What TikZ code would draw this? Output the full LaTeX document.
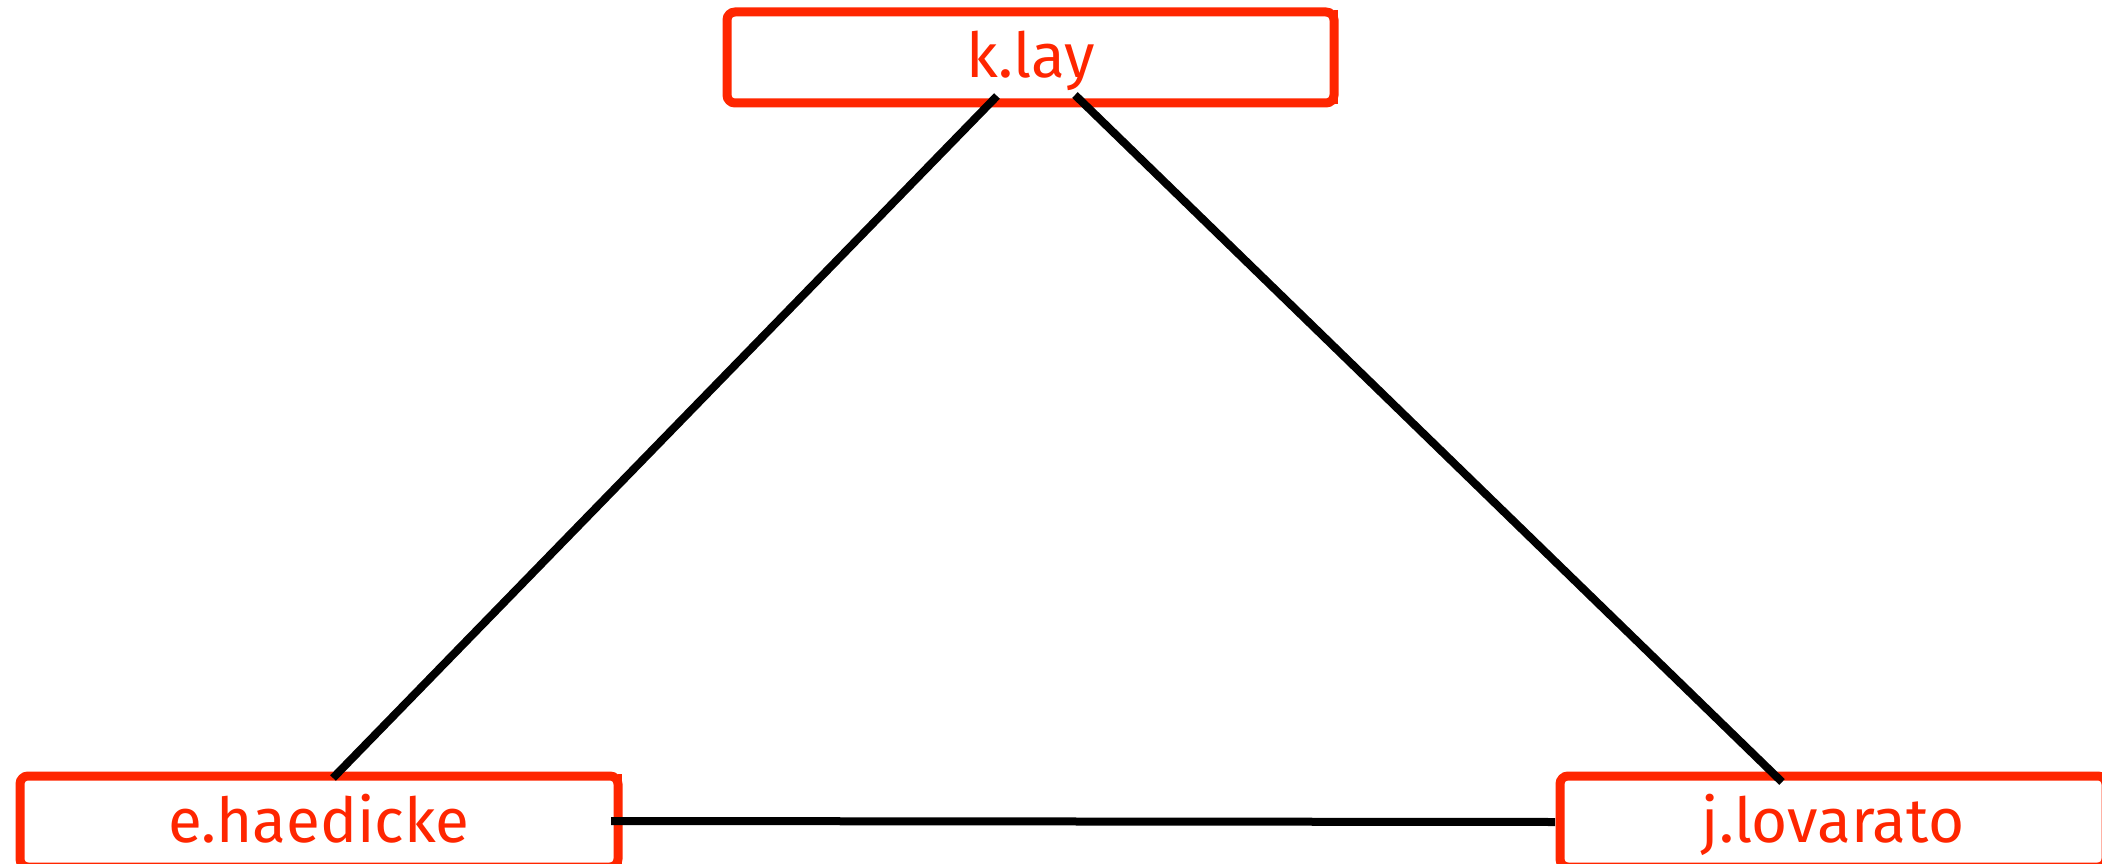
\documentclass[tikz,border=0pt]{standalone}
\usepackage{fontspec}
\setmainfont{Fira Sans}
\usetikzlibrary{calc}
\definecolor{boxred}{RGB}{255,38,0}
\tikzset{
  person/.style={draw=boxred, line width=9pt, rounded corners=8pt, fill=white,
    inner sep=0pt, outer sep=0pt, minimum height=91pt, text=boxred,
    font=\fontsize{62}{74}\selectfont, text height=45pt, text depth=4pt},
  edge/.style={draw=black, line width=8pt},
  notch/.style={draw=boxred, line width=4pt}
}
\begin{document}
\begin{tikzpicture}[x=1pt, y=-1pt]
  \useasboundingbox (0,0) rectangle (2102,864);
  \clip (0,0) rectangle (2102,864);
  % people
  \node[person, minimum width=607pt] (klay) at (1030.5,57.5) {k.lay};
  \node[person, minimum width=598pt] (haedicke) at (319,821.5) {e.haedicke};
  \node[person, minimum width=546pt] (lovarato) at (1833,821.5) {j.lovarato};
  % squared-off outer right edges
  \draw[notch] ($(klay.north east)+(2,-2)$) -- ($(klay.south east)+(2,1)$);
  \draw[notch] ($(haedicke.north east)+(2,-2)$) -- ($(haedicke.south east)+(2,1)$);
  % connector ends
  \coordinate (k1) at ($(klay.south)+(-33.5,-7)$);
  \coordinate (k2) at ($(klay.south)+(44.5,-8)$);
  \coordinate (h1) at ($(haedicke.north)+(14,2)$);
  \coordinate (h2) at ($(haedicke.east)+(-7,-0.5)$);
  \coordinate (l1) at ($(lovarato.north)+(-51,6)$);
  \coordinate (l2) at ($(lovarato.west)+(-5,0.5)$);
  % relations
  \draw[edge] (k1) -- (h1);
  \draw[edge] (k2) -- (l1);
  \draw[edge] (h2) -- (l2);
\end{tikzpicture}
\end{document}
